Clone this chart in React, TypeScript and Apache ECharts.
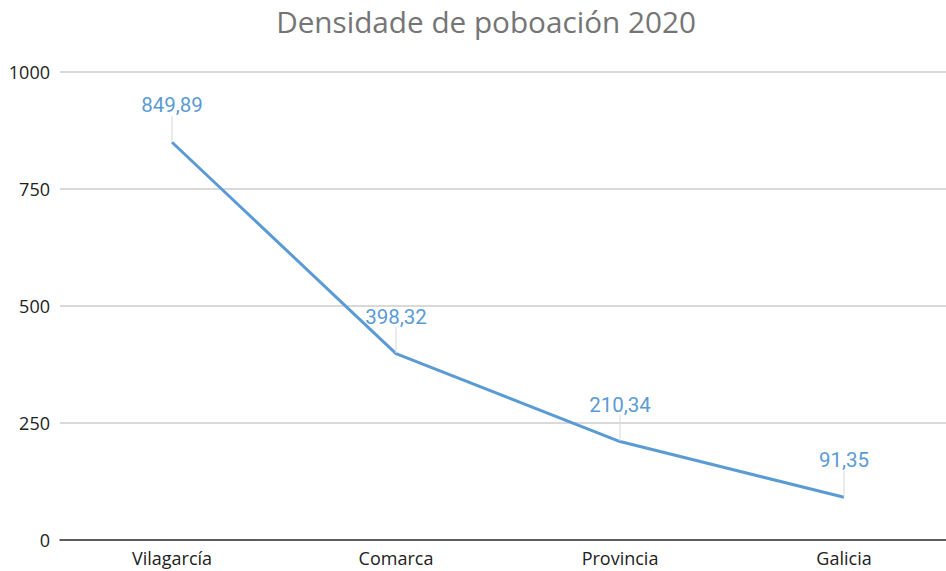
import React, { useEffect, useRef } from "react";
import * as echarts from "echarts";

const categories = ["Vilagarcía", "Comarca", "Provincia", "Galicia"];
const values = [849.89, 398.32, 210.34, 91.35];
const yTicks = [0, 250, 500, 750, 1000];
const titleText = "Densidade de poboación 2020";

export default function App() {
  const ref = useRef<HTMLDivElement>(null);
  useEffect(() => {
    if (!ref.current) return;
    const chart = echarts.init(ref.current, null, { renderer: "svg" });
    chart.setOption({
      animation: false,
      title: {
        text: titleText,
        left: 481,
        textAlign: "center",
        top: 1,
        textStyle: { fontFamily: "Open Sans", fontWeight: "normal", fontSize: 29.7, color: "#757575" },
      },
      grid: { left: 60, right: 10, top: 72, bottom: 31, containLabel: false },
      xAxis: {
        type: "category",
        data: categories,
        boundaryGap: true,
        axisLine: { lineStyle: { color: "#333", width: 1.5 } },
        axisTick: { show: false },
        axisLabel: { fontFamily: "Open Sans", fontSize: 18, color: "#222", margin: 9 },
      },
      yAxis: {
        type: "value",
        min: yTicks[0],
        max: yTicks[yTicks.length - 1],
        interval: 250,
        axisLine: { show: false },
        axisTick: { show: false },
        splitLine: { lineStyle: { color: "#cccccc", width: 1.5 } },
        axisLabel: {
          fontFamily: "Open Sans",
          fontSize: 18,
          color: "#222",
          margin: 10,
          formatter: (v: number) => String(v),
        },
      },
      series: [
        {
          type: "line",
          data: values,
          symbol: "circle",
          symbolSize: 1,
          itemStyle: { color: "rgba(91,155,213,0)" },
          lineStyle: { color: "#5b9bd5", width: 3 },
          label: {
            show: true,
            position: "top",
            distance: 2,
            fontFamily: "Roboto",
            fontSize: 20.5,
            color: "#5b9bd5",
            formatter: (p: any) => p.value.toFixed(2).replace(".", ","),
          },
          labelLayout: { dy: -24 },
          labelLine: { show: true, lineStyle: { color: "#dddddd", width: 1.2 } },
        },
      ],
    });
    return () => chart.dispose();
  }, []);
  return (
    <div style={{ width: 946, height: 571, position: "absolute", left: 0, top: 0, overflow: "hidden" }}>
      <div ref={ref} style={{ width: 966, height: 571 }} />
    </div>
  );
}
